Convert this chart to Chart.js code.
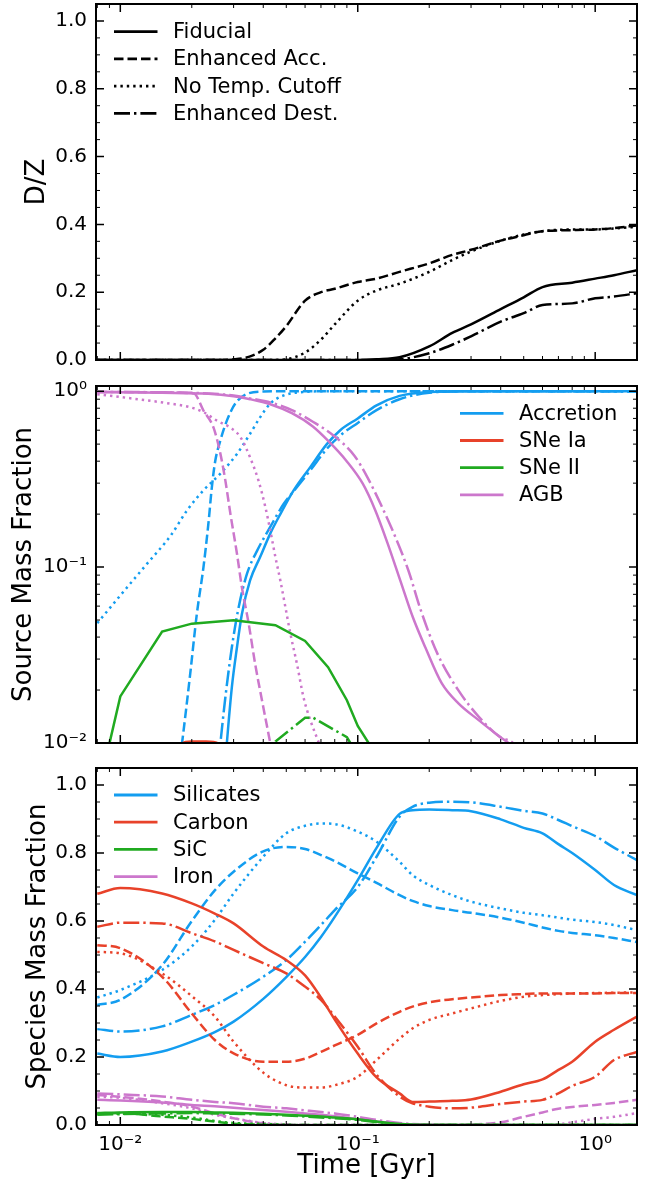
<!DOCTYPE html>
<html>
<head>
<meta charset="utf-8">
<script src="https://cdn.jsdelivr.net/npm/chart.js@4.4.0/dist/chart.umd.min.js"></script>
<style>
  body { margin: 0; background: #fff; }
  #wrap { position: relative; width: 650px; height: 1182px; }
  canvas { position: absolute; left: 0; }
</style>
</head>
<body>
<div id="wrap">
  <canvas id="dz-chart" width="650" height="375" style="top:0px"></canvas>
  <canvas id="source-chart" width="650" height="390" style="top:370px"></canvas>
  <canvas id="species-chart" width="650" height="427" style="top:755px"></canvas>
</div>
<script>
// shared time axis (Gyr)
var timeMin = 0.0079, timeMax = 1.5;
var logTicks = [0.01, 0.1, 1];
var logLabels = ['10\u207b\u00b2', '10\u207b\u00b9', '10\u2070'];
var fracTicks = [0, 0.2, 0.4, 0.6, 0.8, 1.0];

var runNames = ['Fiducial', 'Enhanced Acc.', 'No Temp. Cutoff', 'Enhanced Dest.'];
var sourceNames = ['Accretion', 'SNe Ia', 'SNe II', 'AGB'];
var speciesNames = ['Silicates', 'Carbon', 'SiC', 'Iron'];

// D/Z
var dzTime = [0.008, 0.01, 0.012, 0.015, 0.02, 0.025, 0.03, 0.035, 0.04, 0.045, 0.05, 0.06, 0.07, 0.08, 0.1, 0.12, 0.15, 0.2, 0.25, 0.3, 0.4, 0.5, 0.6, 0.8, 1.0, 1.2, 1.5];
var dzFiducial = [0, 0, 0, 0, 0, 0, 0, 0, 0, 0, 0, 0, 0, 0, 0, 0.002, 0.008, 0.04, 0.08, 0.105, 0.15, 0.185, 0.215, 0.228, 0.24, 0.25, 0.265];
var dzEnhancedAcc = [0, 0, 0, 0, 0, 0, 0.002, 0.01, 0.03, 0.064, 0.1, 0.175, 0.2, 0.21, 0.23, 0.24, 0.26, 0.285, 0.31, 0.325, 0.352, 0.368, 0.38, 0.383, 0.385, 0.389, 0.397];
var dzNoCutoff = [0, 0, 0, 0, 0, 0, 0, 0, 0, 0, 0.002, 0.022, 0.06, 0.105, 0.175, 0.205, 0.225, 0.26, 0.295, 0.32, 0.352, 0.37, 0.38, 0.385, 0.385, 0.388, 0.393];
var dzEnhancedDest = [0, 0, 0, 0, 0, 0, 0, 0, 0, 0, 0, 0, 0, 0, 0, 0, 0.002, 0.02, 0.045, 0.07, 0.113, 0.138, 0.162, 0.167, 0.182, 0.187, 0.197];

// source mass fractions (each curve sampled at its own times)
var accFidT = [0.008, 0.027, 0.0281, 0.0295, 0.031, 0.0325, 0.0352, 0.0388, 0.0428, 0.0472, 0.0537, 0.0631, 0.0741, 0.0844, 0.1, 0.12, 0.15, 0.2, 0.3, 1.5];
var accFidV = [0.001, 0.005, 0.01, 0.0208, 0.035, 0.054, 0.084, 0.114, 0.155, 0.2, 0.273, 0.37, 0.5, 0.6, 0.7, 0.83, 0.94, 0.99, 1.0, 1.0];
var accAccT = [0.008, 0.017, 0.0182, 0.0197, 0.021, 0.0224, 0.0235, 0.0243, 0.0251, 0.0264, 0.0281, 0.0305, 0.0342, 0.0401, 0.06, 1.5];
var accAccV = [0.001, 0.005, 0.01, 0.0248, 0.054, 0.1, 0.177, 0.285, 0.4, 0.525, 0.68, 0.85, 0.966, 0.995, 1.0, 1.0];
var accTempT = [0.008, 0.01, 0.013, 0.0163, 0.0191, 0.0224, 0.0264, 0.031, 0.0352, 0.0388, 0.0428, 0.0488, 0.0592, 0.08, 1.5];
var accTempV = [0.048, 0.069, 0.105, 0.151, 0.21, 0.273, 0.34, 0.44, 0.573, 0.71, 0.85, 0.946, 0.99, 1.0, 1.0];
var accDestT = [0.008, 0.025, 0.0264, 0.0277, 0.0295, 0.0315, 0.0342, 0.0377, 0.0428, 0.0488, 0.0555, 0.0631, 0.0741, 0.0844, 0.1, 0.12, 0.15, 0.2, 0.3, 1.5];
var accDestV = [0.001, 0.005, 0.01, 0.0182, 0.035, 0.059, 0.092, 0.124, 0.169, 0.229, 0.285, 0.355, 0.47, 0.56, 0.66, 0.78, 0.9, 0.98, 1.0, 1.0];

var snIaFidT = [0.016, 0.018, 0.02, 0.023, 0.026, 0.028];
var snIaFidV = [0.0085, 0.0099, 0.0102, 0.0102, 0.0099, 0.0085];

var snIIFidT = [0.008, 0.01, 0.015, 0.02, 0.03, 0.045, 0.06, 0.075, 0.09, 0.1, 0.12];
var snIIFidV = [0.005, 0.0184, 0.043, 0.0477, 0.0498, 0.0467, 0.038, 0.027, 0.0175, 0.0125, 0.0085];
var snIIDestT = [0.04, 0.045, 0.06, 0.065, 0.09, 0.1];
var snIIDestV = [0.0075, 0.0102, 0.0139, 0.0139, 0.0108, 0.0085];

var agbFidT = [0.008, 0.015, 0.0235, 0.03, 0.0352, 0.0431, 0.0528, 0.0647, 0.076, 0.0893, 0.105, 0.1186, 0.1337, 0.151, 0.1705, 0.1925, 0.226, 0.2655, 0.325, 0.398, 0.431, 0.5];
var agbFidV = [0.99, 0.98, 0.966, 0.935, 0.9, 0.84, 0.75, 0.63, 0.513, 0.404, 0.298, 0.21, 0.136, 0.084, 0.052, 0.035, 0.0218, 0.0168, 0.0134, 0.0108, 0.01, 0.008];
var agbAccT = [0.008, 0.015, 0.0204, 0.0224, 0.0247, 0.0264, 0.0277, 0.0291, 0.031, 0.0325, 0.0347, 0.037, 0.0395, 0.0428, 0.045];
var agbAccV = [0.99, 0.985, 0.97, 0.776, 0.62, 0.44, 0.31, 0.2, 0.119, 0.077, 0.048, 0.028, 0.0175, 0.01, 0.007];
var agbTempT = [0.008, 0.0114, 0.0157, 0.0197, 0.0224, 0.0255, 0.0291, 0.032, 0.0352, 0.0382, 0.0408, 0.0428, 0.045, 0.0472, 0.0496, 0.052, 0.0555, 0.0592, 0.0631, 0.0684, 0.075];
var agbTempV = [0.96, 0.906, 0.855, 0.81, 0.76, 0.68, 0.62, 0.55, 0.42, 0.31, 0.22, 0.162, 0.114, 0.084, 0.059, 0.042, 0.028, 0.018, 0.0135, 0.0101, 0.007];
var agbDestT = [0.008, 0.015, 0.0235, 0.03, 0.0352, 0.0431, 0.0528, 0.0647, 0.079, 0.0968, 0.109, 0.1285, 0.145, 0.1637, 0.185, 0.217, 0.2655, 0.325, 0.398, 0.45, 0.5];
var agbDestV = [0.99, 0.985, 0.97, 0.945, 0.91, 0.86, 0.78, 0.67, 0.56, 0.43, 0.33, 0.21, 0.145, 0.095, 0.056, 0.032, 0.0199, 0.014, 0.0108, 0.01, 0.008];

// species mass fractions
var spTime = [0.008, 0.01, 0.015, 0.02, 0.025, 0.03, 0.04, 0.05, 0.06, 0.07, 0.08, 0.1, 0.12, 0.15, 0.17, 0.2, 0.25, 0.3, 0.4, 0.5, 0.6, 0.7, 0.8, 1.0, 1.2, 1.5];
var silFid = [0.21, 0.2, 0.216, 0.245, 0.273, 0.304, 0.371, 0.435, 0.494, 0.553, 0.612, 0.72, 0.815, 0.915, 0.926, 0.928, 0.926, 0.923, 0.899, 0.874, 0.858, 0.826, 0.8, 0.75, 0.706, 0.676];
var silAcc = [0.353, 0.368, 0.47, 0.6, 0.69, 0.745, 0.805, 0.818, 0.812, 0.794, 0.776, 0.74, 0.712, 0.676, 0.659, 0.644, 0.632, 0.624, 0.61, 0.595, 0.581, 0.571, 0.565, 0.558, 0.55, 0.538];
var silTemp = [0.375, 0.397, 0.456, 0.525, 0.603, 0.681, 0.789, 0.858, 0.88, 0.887, 0.885, 0.863, 0.833, 0.774, 0.735, 0.706, 0.676, 0.657, 0.637, 0.624, 0.617, 0.61, 0.604, 0.597, 0.588, 0.573];
var silDest = [0.282, 0.275, 0.29, 0.324, 0.353, 0.383, 0.436, 0.485, 0.539, 0.588, 0.632, 0.7, 0.789, 0.907, 0.936, 0.948, 0.951, 0.949, 0.936, 0.924, 0.916, 0.897, 0.879, 0.85, 0.816, 0.779];
var carFid = [0.68, 0.697, 0.681, 0.652, 0.622, 0.593, 0.525, 0.485, 0.44, 0.375, 0.31, 0.21, 0.14, 0.093, 0.068, 0.069, 0.071, 0.075, 0.098, 0.12, 0.134, 0.162, 0.186, 0.245, 0.28, 0.319];
var carAcc = [0.529, 0.52, 0.436, 0.328, 0.25, 0.211, 0.186, 0.186, 0.195, 0.215, 0.234, 0.265, 0.299, 0.333, 0.348, 0.361, 0.37, 0.375, 0.382, 0.385, 0.387, 0.387, 0.387, 0.387, 0.388, 0.388];
var carTemp = [0.509, 0.505, 0.446, 0.379, 0.319, 0.245, 0.154, 0.117, 0.11, 0.11, 0.117, 0.142, 0.191, 0.254, 0.284, 0.309, 0.328, 0.343, 0.365, 0.377, 0.382, 0.385, 0.387, 0.388, 0.389, 0.39];
var carDest = [0.583, 0.595, 0.593, 0.564, 0.54, 0.515, 0.476, 0.446, 0.407, 0.368, 0.319, 0.23, 0.148, 0.084, 0.064, 0.054, 0.049, 0.051, 0.062, 0.069, 0.074, 0.093, 0.115, 0.142, 0.191, 0.215];
var sicFid = [0.035, 0.037, 0.038, 0.038, 0.037, 0.036, 0.033, 0.03, 0.027, 0.025, 0.022, 0.017, 0.01, 0.003, 0.001, 0, 0, 0, 0, 0, 0, 0, 0, 0, 0, 0];
var sicAcc = [0.033, 0.035, 0.025, 0.018, 0.01, 0.004, 0.001, 0, 0, 0, 0, 0, 0, 0, 0, 0, 0, 0, 0, 0, 0, 0, 0, 0, 0, 0];
var sicTemp = [0.033, 0.033, 0.03, 0.022, 0.012, 0.006, 0.003, 0.001, 0, 0, 0, 0, 0, 0, 0, 0, 0, 0, 0, 0, 0, 0, 0, 0, 0, 0];
var sicDest = [0.03, 0.032, 0.034, 0.035, 0.034, 0.033, 0.031, 0.028, 0.025, 0.022, 0.02, 0.015, 0.009, 0.002, 0, 0, 0, 0, 0, 0, 0, 0, 0, 0, 0, 0];
var ironFid = [0.074, 0.072, 0.066, 0.059, 0.055, 0.051, 0.044, 0.039, 0.034, 0.03, 0.026, 0.017, 0.01, 0.004, 0.002, 0.001, 0, 0, 0, 0, 0, 0, 0, 0, 0, 0];
var ironAcc = [0.088, 0.083, 0.069, 0.054, 0.034, 0.02, 0.005, 0.001, 0, 0, 0, 0, 0, 0, 0, 0, 0, 0.001, 0.008, 0.024, 0.037, 0.048, 0.053, 0.059, 0.065, 0.074];
var ironTemp = [0.083, 0.08, 0.064, 0.049, 0.03, 0.02, 0.006, 0.002, 0, 0, 0, 0, 0, 0, 0, 0, 0, 0, 0, 0, 0, 0.002, 0.008, 0.018, 0.024, 0.035];
var ironDest = [0.093, 0.09, 0.084, 0.074, 0.068, 0.064, 0.054, 0.049, 0.043, 0.038, 0.034, 0.024, 0.015, 0.006, 0.003, 0.001, 0, 0, 0, 0, 0, 0, 0, 0, 0, 0];

var blue = '#139df0', red = '#e8422a', green = '#20aa20', purple = '#cc77cc';
var dashes = { solid: [], dashed: [9.5, 4], dotted: [2.4, 4], dashdot: [16, 4, 2.4, 4] };
var fontFamily = 'DejaVu Sans';

function series(times, values, color, style, straight) {
  return {
    data: times.map(function (t, i) { return { x: t, y: values[i] }; }),
    borderColor: color,
    borderWidth: 2.5,
    borderDash: dashes[style],
    pointRadius: 0,
    fill: false,
    cubicInterpolationMode: straight ? 'default' : 'monotone',
    tension: 0
  };
}

// log-decade minor ticks for the time axis and the source panel
function logMinor(min, max) {
  var out = [];
  for (var n = -3; n <= 1; n++) {
    for (var k = 2; k <= 9; k++) {
      var v = k * Math.pow(10, n);
      if (v > min && v < max) out.push(v);
    }
  }
  return out;
}
var fracMinor = [];
for (var m = 1; m <= 21; m++) { if (m % 4 !== 0) fracMinor.push(m * 0.05); }

// frame, inward ticks on all four sides and the in-axes legend
var axesFrame = {
  id: 'axesFrame',
  afterDatasetsDraw: function (chart, args, opts) {
    var ctx = chart.ctx, a = chart.chartArea;
    var xs = chart.scales.x, ys = chart.scales.y;
    ctx.save();
    ctx.strokeStyle = '#000';
    function xTick(v, len) {
      var p = xs.getPixelForValue(v);
      ctx.beginPath();
      ctx.moveTo(p, a.bottom); ctx.lineTo(p, a.bottom - len);
      ctx.moveTo(p, a.top); ctx.lineTo(p, a.top + len);
      ctx.stroke();
    }
    function yTick(v, len) {
      var p = ys.getPixelForValue(v);
      if (p < a.top + 1) return;
      ctx.beginPath();
      ctx.moveTo(a.left, p); ctx.lineTo(a.left + len, p);
      ctx.moveTo(a.right, p); ctx.lineTo(a.right - len, p);
      ctx.stroke();
    }
    ctx.lineWidth = 1;
    logMinor(timeMin, timeMax).forEach(function (v) { xTick(v, 4); });
    opts.yMinor.forEach(function (v) { yTick(v, 4); });
    ctx.lineWidth = 1.5;
    logTicks.forEach(function (v) { xTick(v, 8); });
    opts.yMajor.forEach(function (v) { yTick(v, 8); });
    ctx.lineWidth = 2;
    ctx.strokeRect(a.left, a.top, a.right - a.left, a.bottom - a.top);

    var lg = opts.legend;
    var x0 = lg.fromRight ? a.right - lg.x : a.left + lg.x;
    ctx.font = '21px "' + fontFamily + '"';
    ctx.textBaseline = 'middle';
    ctx.textAlign = 'left';
    lg.items.forEach(function (it, i) {
      var y = a.top + lg.y + i * 27.2;
      ctx.strokeStyle = it.color;
      ctx.lineWidth = lg.width;
      ctx.setLineDash(dashes[it.style]);
      ctx.beginPath();
      ctx.moveTo(x0, y); ctx.lineTo(x0 + 43.5, y);
      ctx.stroke();
      ctx.setLineDash([]);
      ctx.fillStyle = '#000';
      ctx.fillText(it.label, x0 + 59, y + 1);
    });
    ctx.restore();
  }
};

function xAxis(height, showLabels) {
  return {
    type: 'logarithmic',
    min: timeMin,
    max: timeMax,
    grid: { display: false },
    border: { display: false },
    ticks: {
      display: showLabels,
      color: '#000',
      padding: 0,
      maxRotation: 0,
      font: { family: fontFamily, size: 20 },
      callback: function (v, i) { return logLabels[i]; }
    },
    title: {
      display: showLabels,
      text: 'Time [Gyr]',
      color: '#000',
      font: { family: fontFamily, size: 26 },
      padding: { top: 0, bottom: 0 }
    },
    afterBuildTicks: function (s) { s.ticks = logTicks.map(function (v) { return { value: v }; }); },
    afterFit: function (s) { s.height = height; s.paddingLeft = 0; s.paddingRight = 0; }
  };
}

function yTitle(text, pad) {
  return { display: true, text: text, color: '#000', font: { family: fontFamily, size: 26 }, padding: { top: pad, bottom: 0 } };
}

function fixY(s) { s.width = 96; s.paddingTop = 0; s.paddingBottom = 0; }

function fracAxis(title, pad) {
  return {
    type: 'linear', min: 0, max: 1.05,
    grid: { display: false }, border: { display: false },
    ticks: { color: '#000', padding: 1, font: { family: fontFamily, size: 20 },
      callback: function (v) { return v.toFixed(1); } },
    title: yTitle(title, pad),
    afterBuildTicks: function (s) { s.ticks = fracTicks.map(function (v) { return { value: v }; }); },
    afterFit: fixY
  };
}

function baseOptions(padTop, scales, frame) {
  return {
    responsive: false,
    animation: false,
    devicePixelRatio: 1,
    layout: { padding: { top: padTop, right: 13, left: 0, bottom: 0 } },
    plugins: { legend: { display: false }, tooltip: { enabled: false }, axesFrame: frame },
    scales: scales
  };
}

// D/Z panel
new Chart(document.getElementById('dz-chart'), {
  type: 'line',
  data: {
    datasets: [
      series(dzTime, dzFiducial, '#000', 'solid'),
      series(dzTime, dzEnhancedAcc, '#000', 'dashed'),
      series(dzTime, dzNoCutoff, '#000', 'dotted'),
      series(dzTime, dzEnhancedDest, '#000', 'dashdot')
    ]
  },
  options: baseOptions(4, { x: xAxis(15, false), y: fracAxis('D/Z', 22) }, {
    yMajor: fracTicks, yMinor: fracMinor,
    legend: { x: 18, y: 27.7, width: 2.8, fromRight: false, items: [
      { label: runNames[0], color: '#000', style: 'solid' },
      { label: runNames[1], color: '#000', style: 'dashed' },
      { label: runNames[2], color: '#000', style: 'dotted' },
      { label: runNames[3], color: '#000', style: 'dashdot' }
    ] }
  }),
  plugins: [axesFrame]
});

// source mass fraction panel
new Chart(document.getElementById('source-chart'), {
  type: 'line',
  data: {
    datasets: [
      series(snIaFidT, snIaFidV, red, 'solid'),
      series(snIIFidT, snIIFidV, green, 'solid', true),
      series(snIIDestT, snIIDestV, green, 'dashdot', true),
      series(agbFidT, agbFidV, purple, 'solid'),
      series(agbAccT, agbAccV, purple, 'dashed'),
      series(agbTempT, agbTempV, purple, 'dotted'),
      series(agbDestT, agbDestV, purple, 'dashdot'),
      series(accFidT, accFidV, blue, 'solid'),
      series(accAccT, accAccV, blue, 'dashed'),
      series(accTempT, accTempV, blue, 'dotted'),
      series(accDestT, accDestV, blue, 'dashdot')
    ]
  },
  options: baseOptions(16, {
    x: xAxis(17, false),
    y: {
      type: 'logarithmic', min: 0.01, max: 1.07,
      grid: { display: false }, border: { display: false },
      ticks: { color: '#000', padding: 1, font: { family: fontFamily, size: 20 },
        callback: function (v, i) { return logLabels[i]; } },
      title: yTitle('Source Mass Fraction', 9),
      afterBuildTicks: function (s) { s.ticks = logTicks.map(function (v) { return { value: v }; }); },
      afterFit: fixY
    }
  }, {
    yMajor: logTicks, yMinor: logMinor(0.01, 1.07),
    legend: { x: 177, y: 27.3, width: 2.8, fromRight: true, items: [
      { label: sourceNames[0], color: blue, style: 'solid' },
      { label: sourceNames[1], color: red, style: 'solid' },
      { label: sourceNames[2], color: green, style: 'solid' },
      { label: sourceNames[3], color: purple, style: 'solid' }
    ] }
  }),
  plugins: [axesFrame]
});

// species mass fraction panel
new Chart(document.getElementById('species-chart'), {
  type: 'line',
  data: {
    datasets: [
      series(spTime, sicFid, green, 'solid'),
      series(spTime, sicAcc, green, 'dashed'),
      series(spTime, sicTemp, green, 'dotted'),
      series(spTime, sicDest, green, 'dashdot'),
      series(spTime, ironFid, purple, 'solid'),
      series(spTime, ironAcc, purple, 'dashed'),
      series(spTime, ironTemp, purple, 'dotted'),
      series(spTime, ironDest, purple, 'dashdot'),
      series(spTime, carFid, red, 'solid'),
      series(spTime, carAcc, red, 'dashed'),
      series(spTime, carTemp, red, 'dotted'),
      series(spTime, carDest, red, 'dashdot'),
      series(spTime, silFid, blue, 'solid'),
      series(spTime, silAcc, blue, 'dashed'),
      series(spTime, silTemp, blue, 'dotted'),
      series(spTime, silDest, blue, 'dashdot')
    ]
  },
  options: baseOptions(13, { x: xAxis(57, true), y: fracAxis('Species Mass Fraction', 23) }, {
    yMajor: fracTicks, yMinor: fracMinor,
    legend: { x: 18, y: 27, width: 2.8, fromRight: false, items: [
      { label: speciesNames[0], color: blue, style: 'solid' },
      { label: speciesNames[1], color: red, style: 'solid' },
      { label: speciesNames[2], color: green, style: 'solid' },
      { label: speciesNames[3], color: purple, style: 'solid' }
    ] }
  }),
  plugins: [axesFrame]
});
</script>
</body>
</html>
